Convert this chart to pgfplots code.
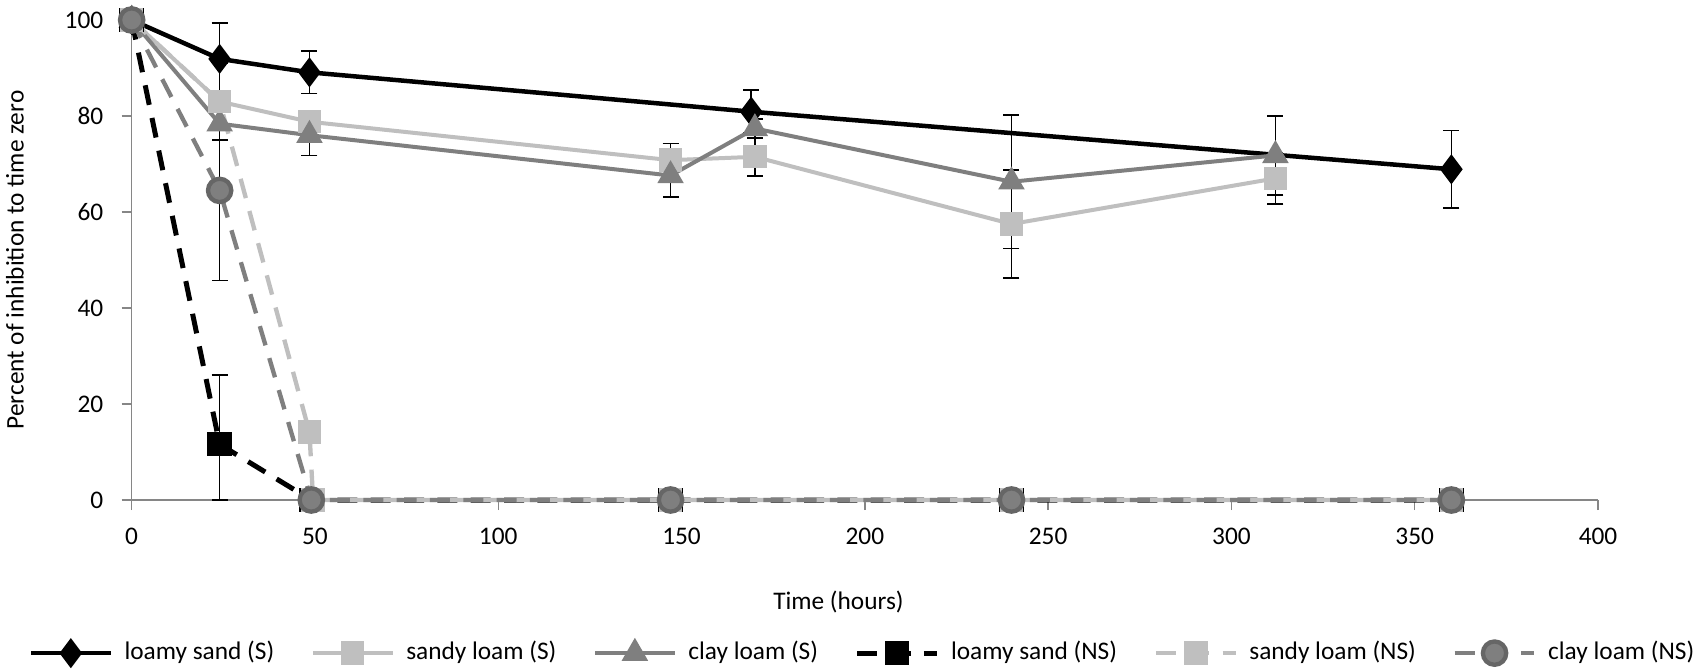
\documentclass[border=0pt]{standalone}
\usepackage{fontspec}
\setmainfont{Carlito}
\usepackage{pgfplots}
\pgfplotsset{compat=1.18}
\definecolor{lgray}{HTML}{BFBFBF}
\definecolor{mgray}{HTML}{7F7F7F}
\definecolor{axgray}{HTML}{868686}
\begin{document}
\begin{tikzpicture}[font=\fontsize{7.6pt}{9pt}\selectfont]
\useasboundingbox (-39.5pt,-51pt) rectangle (470.5pt,150pt);
\begin{axis}[
  at={(0,0)}, anchor=south west,
  scale only axis, width=439.9pt, height=144pt,
  xmin=0, xmax=400, ymin=0, ymax=100,
  xtick={0,50,...,400}, ytick={0,20,...,100},
  axis x line*=bottom, axis y line*=left,
  axis line style={axgray, line width=0.45pt, -},
  tick style={axgray, line width=0.45pt},
  tick align=outside, major tick length=3pt,
  /pgf/number format/assume math mode=true,
  ticklabel style={font=\fontsize{7.6pt}{9pt}\selectfont},
  xticklabel style={yshift=-2pt},
  yticklabel style={xshift=-2pt},
  xlabel={Time (hours)},
  ylabel={Percent of inhibition to time zero},
  xlabel style={at={(axis description cs:0.482,-0.2125)}, anchor=center, font=\fontsize{7.6pt}{9pt}\selectfont},
  ylabel style={at={(axis description cs:0,0.5)}, anchor=center, xshift=0pt, yshift=35pt, font=\fontsize{7.6pt}{9pt}\selectfont},
  clip=false,
  legend columns=6,
  legend style={at={(axis description cs:0.50,-0.319)}, anchor=center, draw=none, fill=none,
    font=\fontsize{7.6pt}{9pt}\selectfont,
    /tikz/every even column/.append style={column sep=9pt},
    /tikz/every odd column/.append style={column sep=1.5pt}},
  legend image code/.code={\draw[mark repeat=2,mark phase=2] plot coordinates {(0cm,0cm)(0.42cm,0cm)(0.84cm,0cm)};},
  error bars/error bar style={black, line width=0.5pt, solid},
  error bars/error mark options={rotate=90, mark size=2.4pt, black, line width=0.5pt, solid},
]
% loamy sand (S)
\addplot[black, line width=1.35pt, mark=diamond*, mark size=3.4pt, mark options={solid, fill=black},
  error bars/.cd, y dir=both, y explicit]
  coordinates {(0,100) +- (0,0) (24,91.9) +- (0,7.5) (48.5,89.1) +- (0,4.4) (169,80.9) +- (0,4.5) (360,68.9) +- (0,8.1)};
\addlegendentry{loamy sand (S)}
% sandy loam (S)
\addplot[lgray, line width=1.2pt, mark=square*, mark size=2.9pt, mark options={solid, fill=lgray, draw=lgray},
  error bars/.cd, y dir=both, y explicit]
  coordinates {(0,100) +- (0,0) (24,83.0) +- (0,8.0) (48.5,78.8) +- (0,2.0) (147,70.8) +- (0,3.5) (170,71.5) +- (0,4.0) (240,57.5) +- (0,11.3) (312,67.0) +- (0,5.3)};
\addlegendentry{sandy loam (S)}
% clay loam (S)
\addplot[mgray, line width=1.2pt, mark=triangle*, mark size=3.4pt, mark options={solid, fill=mgray, draw=mgray},
  error bars/.cd, y dir=both, y explicit]
  coordinates {(0,100) +- (0,0) (24,78.4) +- (0,3.4) (48.5,76.0) +- (0,4.2) (147,67.6) +- (0,4.5) (170,77.4) +- (0,2.0) (240,66.3) +- (0,13.9) (312,71.8) +- (0,8.2)};
\addlegendentry{clay loam (S)}
% loamy sand (NS)
\addplot[black, line width=1.5pt, dash pattern=on 6pt off 4pt, mark=square*, mark size=2.9pt, mark options={solid, fill=black},
  error bars/.cd, y dir=both, y explicit]
  coordinates {(0,100) +- (0,0) (24,11.6) += (0,14.5) -= (0,11.6) (49,0) +- (0,0) (147,0) +- (0,0) (240,0) +- (0,0) (360,0) +- (0,0)};
\addlegendentry{loamy sand (NS)}
% sandy loam (NS)
\addplot[lgray, line width=1.3pt, dash pattern=on 6pt off 4pt, mark=square*, mark size=2.9pt, mark options={solid, fill=lgray, draw=lgray}]
  coordinates {(0,100) (24,83.0) (48.5,14.1) (49.5,0) (147,0) (240,0) (360,0)};
\addlegendentry{sandy loam (NS)}
% clay loam (NS)
\addplot[mgray, line width=1.3pt, dash pattern=on 6pt off 4pt, mark=*, mark size=3.5pt, mark options={solid, fill=mgray, draw=mgray!80!black},
  error bars/.cd, y dir=both, y explicit]
  coordinates {(0,100) +- (0,0) (24,64.5) +- (0,18.8) (49,0) +- (0,0) (147,0) +- (0,0) (240,0) +- (0,0) (360,0) +- (0,0)};
\addlegendentry{clay loam (NS)}
\end{axis}
\end{tikzpicture}
\end{document}
